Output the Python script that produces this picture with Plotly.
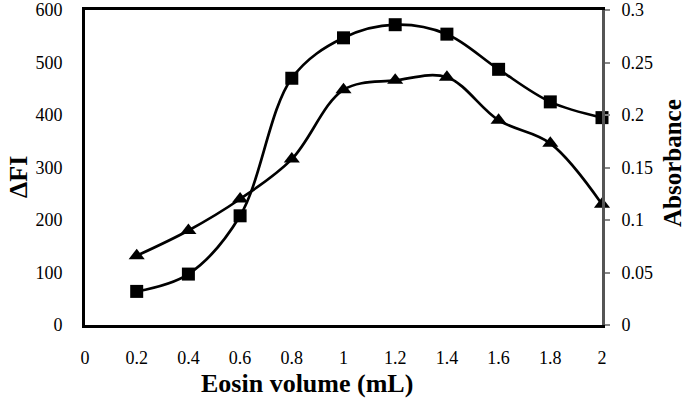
import plotly.graph_objects as go

eosin_volume = [0.2, 0.4, 0.6, 0.8, 1.0, 1.2, 1.4, 1.6, 1.8, 2.0]
delta_fi = [64, 97, 208, 470, 547, 572, 554, 487, 425, 395]
absorbance = [0.066, 0.090, 0.120, 0.158, 0.224, 0.233, 0.236, 0.195, 0.173, 0.115]

x_ticks = [0, 0.2, 0.4, 0.6, 0.8, 1, 1.2, 1.4, 1.6, 1.8, 2]
x_tick_labels = ["0", "0.2", "0.4", "0.6", "0.8", "1", "1.2", "1.4", "1.6", "1.8", "2"]
y1_ticks = [0, 100, 200, 300, 400, 500, 600]
y2_ticks = [0, 0.05, 0.1, 0.15, 0.2, 0.25, 0.3]
y2_tick_labels = ["0", "0.05", "0.1", "0.15", "0.2", "0.25", "0.3"]

FONT = "Liberation Serif, Times New Roman, serif"

fig = go.Figure()
fig.add_trace(go.Scatter(
    x=eosin_volume, y=delta_fi, mode="lines+markers", name="ΔFI",
    line=dict(color="black", width=2.7, shape="spline", smoothing=1),
    marker=dict(symbol="square", size=13, color="black"),
    yaxis="y", cliponaxis=False,
))
fig.add_trace(go.Scatter(
    x=eosin_volume, y=absorbance, mode="lines+markers", name="Absorbance",
    line=dict(color="black", width=2.7, shape="spline", smoothing=1),
    marker=dict(symbol="triangle-up", size=14, color="black"),
    yaxis="y2", cliponaxis=False,
))

fig.update_layout(
    width=685, height=400,
    margin=dict(l=85, r=83, t=10, b=75, autoexpand=False),
    paper_bgcolor="white", plot_bgcolor="white",
    showlegend=False,
    font=dict(family=FONT, size=18, color="black"),
    xaxis=dict(
        range=[0, 2], tickvals=x_ticks, ticktext=x_tick_labels,
        showgrid=False, zeroline=False, automargin=False,
        showline=True, linecolor="black", linewidth=3, mirror=True,
        ticks="", ticklabelstandoff=14, ticklabeloverflow="allow",
        tickfont=dict(family=FONT, size=18),
    ),
    yaxis=dict(
        range=[0, 600], tickvals=y1_ticks,
        showgrid=False, zeroline=False, automargin=False,
        showline=True, linecolor="black", linewidth=3,
        ticks="", ticklabelstandoff=16, ticklabeloverflow="allow",
        tickfont=dict(family=FONT, size=18),
    ),
    yaxis2=dict(
        range=[0, 0.3], tickvals=y2_ticks, ticktext=y2_tick_labels,
        overlaying="y", side="right", automargin=False,
        showgrid=False, zeroline=False,
        showline=True, linecolor="#555555", linewidth=3,
        ticks="outside", ticklen=5, tickcolor="#888888", tickwidth=1.5,
        ticklabelstandoff=8, ticklabeloverflow="allow",
        tickfont=dict(family=FONT, size=18),
    ),
    annotations=[
        dict(text="<b>Eosin volume (mL)</b>", xref="paper", yref="paper",
             x=(307 - 85) / 517, y=-(383 - 325) / 315, xanchor="center", yanchor="middle",
             showarrow=False, font=dict(family=FONT, size=26)),
        dict(text="<b>ΔFI</b>", xref="paper", yref="paper",
             x=-(85 - 18) / 517, y=(325 - 177) / 315, xanchor="center", yanchor="middle",
             textangle=-90, showarrow=False, font=dict(family=FONT, size=26)),
        dict(text="<b>Absorbance</b>", xref="paper", yref="paper",
             x=1 + (672 - 602) / 517, y=(325 - 163) / 315, xanchor="center", yanchor="middle",
             textangle=-90, showarrow=False, font=dict(family=FONT, size=25)),
    ],
)

fig.write_html(
    "out.html",
    config={"displayModeBar": False},
    post_script="document.body.style.margin='0';document.body.style.overflow='hidden';",
)
